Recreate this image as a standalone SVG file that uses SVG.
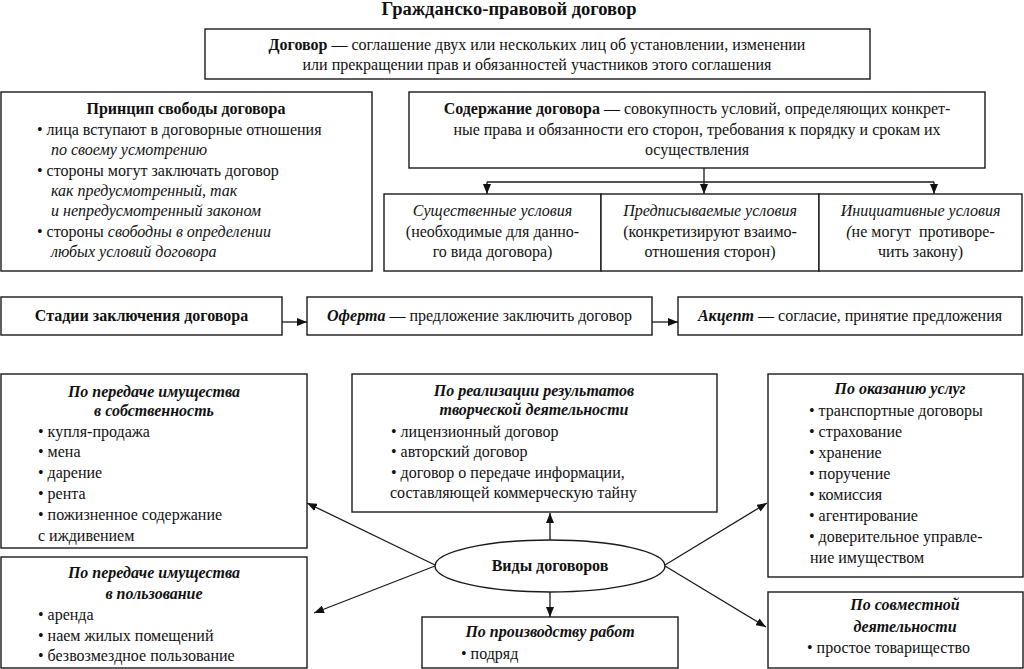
<svg xmlns="http://www.w3.org/2000/svg" width="1024" height="669" viewBox="0 0 1024 669" font-family="Liberation Serif">
<defs>
  <marker id="ah" markerUnits="userSpaceOnUse" markerWidth="10" markerHeight="8" viewBox="0 0 10 8" refX="10" refY="4" orient="auto">
    <path d="M0,0 L10,4 L0,8 z" fill="#111"/>
  </marker>
</defs>
<rect width="1024" height="669" fill="#fff"/>

<g id="title">
  <text x="509" y="15" font-family="Liberation Serif" font-size="18.5" fill="#111" text-anchor="middle" font-weight="bold">Гражданско-правовой договор</text>
</g>

<g id="definition">
  <rect x="205" y="29" width="665" height="50" fill="#fff" stroke="#1a1a1a" stroke-width="1.4"/>
  <text x="537" y="50" font-family="Liberation Serif" font-size="16" fill="#111" text-anchor="middle"><tspan font-weight="bold">Договор</tspan> — соглашение двух или нескольких лиц об установлении, изменении</text>
  <text x="537" y="70" font-family="Liberation Serif" font-size="16" fill="#111" text-anchor="middle">или прекращении прав и обязанностей участников этого соглашения</text>
</g>

<g id="principle">
  <rect x="1" y="92" width="371" height="179" fill="#fff" stroke="#1a1a1a" stroke-width="1.4"/>
  <text x="186" y="114" font-family="Liberation Serif" font-size="16" fill="#111" text-anchor="middle" font-weight="bold">Принцип свободы договора</text>
  <text x="37" y="135" font-family="Liberation Serif" font-size="16" fill="#111">• лица вступают в договорные отношения</text>
  <text x="51" y="155" font-family="Liberation Serif" font-size="16" fill="#111" font-style="italic">по своему усмотрению</text>
  <text x="37" y="176" font-family="Liberation Serif" font-size="16" fill="#111">• стороны могут заключать договор</text>
  <text x="51" y="196" font-family="Liberation Serif" font-size="16" fill="#111" font-style="italic">как предусмотренный, так</text>
  <text x="51" y="216" font-family="Liberation Serif" font-size="16" fill="#111" font-style="italic">и непредусмотренный законом</text>
  <text x="37" y="237" font-family="Liberation Serif" font-size="16" fill="#111">• стороны <tspan font-style="italic">свободны в определении</tspan></text>
  <text x="51" y="257" font-family="Liberation Serif" font-size="16" fill="#111" font-style="italic">любых условий договора</text>
</g>

<g id="content">
  <rect x="409" y="92" width="576" height="76" fill="#fff" stroke="#1a1a1a" stroke-width="1.4"/>
  <text x="697" y="114" font-family="Liberation Serif" font-size="16" fill="#111" text-anchor="middle"><tspan font-weight="bold">Содержание договора</tspan> — совокупность условий, определяющих конкрет-</text>
  <text x="697" y="135" font-family="Liberation Serif" font-size="16" fill="#111" text-anchor="middle">ные права и обязанности его сторон, требования к порядку и срокам их</text>
  <text x="697" y="155" font-family="Liberation Serif" font-size="16" fill="#111" text-anchor="middle">осуществления</text>
</g>

<g id="cond-essential">
  <rect x="384" y="194" width="217" height="77" fill="#fff" stroke="#1a1a1a" stroke-width="1.4"/>
  <text x="492.5" y="216" font-family="Liberation Serif" font-size="16" fill="#111" text-anchor="middle" font-style="italic">Существенные условия</text>
  <text x="492.5" y="237" font-family="Liberation Serif" font-size="16" fill="#111" text-anchor="middle">(необходимые для данно-</text>
  <text x="492.5" y="257" font-family="Liberation Serif" font-size="16" fill="#111" text-anchor="middle">го вида договора)</text>
</g>
<g id="cond-prescribed">
  <rect x="601" y="194" width="218" height="77" fill="#fff" stroke="#1a1a1a" stroke-width="1.4"/>
  <text x="710" y="216" font-family="Liberation Serif" font-size="16" fill="#111" text-anchor="middle" font-style="italic">Предписываемые условия</text>
  <text x="710" y="237" font-family="Liberation Serif" font-size="16" fill="#111" text-anchor="middle">(конкретизируют взаимо-</text>
  <text x="710" y="257" font-family="Liberation Serif" font-size="16" fill="#111" text-anchor="middle">отношения сторон)</text>
</g>
<g id="cond-initiative">
  <rect x="819" y="194" width="203" height="77" fill="#fff" stroke="#1a1a1a" stroke-width="1.4"/>
  <text x="920.5" y="216" font-family="Liberation Serif" font-size="16" fill="#111" text-anchor="middle" font-style="italic">Инициативные условия</text>
  <text x="920.5" y="237" font-family="Liberation Serif" font-size="16" fill="#111" text-anchor="middle" xml:space="preserve"><tspan font-style="italic">(</tspan>не могут  противоре-</text>
  <text x="920.5" y="257" font-family="Liberation Serif" font-size="16" fill="#111" text-anchor="middle">чить закону)</text>
</g>

<g id="stages">
  <rect x="1" y="297" width="281" height="38" fill="#fff" stroke="#1a1a1a" stroke-width="1.4"/>
  <text x="141.5" y="321" font-family="Liberation Serif" font-size="16" fill="#111" text-anchor="middle" font-weight="bold">Стадии заключения договора</text>
</g>
<g id="offer">
  <rect x="307" y="297" width="345" height="38" fill="#fff" stroke="#1a1a1a" stroke-width="1.4"/>
  <text x="479.5" y="321" font-family="Liberation Serif" font-size="16" fill="#111" text-anchor="middle"><tspan font-weight="bold" font-style="italic">Оферта</tspan> — предложение заключить договор</text>
</g>
<g id="acceptance">
  <rect x="678" y="297" width="344" height="38" fill="#fff" stroke="#1a1a1a" stroke-width="1.4"/>
  <text x="850" y="321" font-family="Liberation Serif" font-size="16" fill="#111" text-anchor="middle"><tspan font-weight="bold" font-style="italic">Акцепт</tspan> — согласие, принятие предложения</text>
</g>

<g id="ownership">
  <rect x="1" y="374" width="306" height="174" fill="#fff" stroke="#1a1a1a" stroke-width="1.4"/>
  <text x="154" y="397" font-family="Liberation Serif" font-size="16" fill="#111" text-anchor="middle" font-weight="bold" font-style="italic">По передаче имущества</text>
  <text x="154" y="416" font-family="Liberation Serif" font-size="16" fill="#111" text-anchor="middle" font-weight="bold" font-style="italic">в собственность</text>
  <text x="38" y="437" font-family="Liberation Serif" font-size="16" fill="#111">• купля-продажа</text>
  <text x="38" y="457" font-family="Liberation Serif" font-size="16" fill="#111">• мена</text>
  <text x="38" y="478" font-family="Liberation Serif" font-size="16" fill="#111">• дарение</text>
  <text x="38" y="499" font-family="Liberation Serif" font-size="16" fill="#111">• рента</text>
  <text x="38" y="520" font-family="Liberation Serif" font-size="16" fill="#111">• пожизненное содержание</text>
  <text x="38" y="541" font-family="Liberation Serif" font-size="16" fill="#111">с иждивением</text>
</g>

<g id="use">
  <rect x="1" y="557" width="306" height="111" fill="#fff" stroke="#1a1a1a" stroke-width="1.4"/>
  <text x="154" y="578" font-family="Liberation Serif" font-size="16" fill="#111" text-anchor="middle" font-weight="bold" font-style="italic">По передаче имущества</text>
  <text x="154" y="599" font-family="Liberation Serif" font-size="16" fill="#111" text-anchor="middle" font-weight="bold" font-style="italic">в пользование</text>
  <text x="38" y="620" font-family="Liberation Serif" font-size="16" fill="#111">• аренда</text>
  <text x="38" y="641" font-family="Liberation Serif" font-size="16" fill="#111">• наем жилых помещений</text>
  <text x="38" y="661" font-family="Liberation Serif" font-size="16" fill="#111">• безвозмездное пользование</text>
</g>

<g id="creative">
  <rect x="352" y="374" width="365" height="138" fill="#fff" stroke="#1a1a1a" stroke-width="1.4"/>
  <text x="534" y="396" font-family="Liberation Serif" font-size="16" fill="#111" text-anchor="middle" font-weight="bold" font-style="italic">По реализации результатов</text>
  <text x="534" y="415" font-family="Liberation Serif" font-size="16" fill="#111" text-anchor="middle" font-weight="bold" font-style="italic">творческой деятельности</text>
  <text x="391" y="437" font-family="Liberation Serif" font-size="16" fill="#111">• лицензионный договор</text>
  <text x="391" y="457" font-family="Liberation Serif" font-size="16" fill="#111">• авторский договор</text>
  <text x="391" y="478" font-family="Liberation Serif" font-size="16" fill="#111">• договор о передаче информации,</text>
  <text x="390" y="498" font-family="Liberation Serif" font-size="16" fill="#111">составляющей коммерческую тайну</text>
</g>

<g id="types">
  <ellipse cx="550" cy="566" rx="115" ry="26" fill="#fff" stroke="#1a1a1a" stroke-width="1.4"/>
  <text x="550" y="571" font-family="Liberation Serif" font-size="16" fill="#111" text-anchor="middle" font-weight="bold">Виды договоров</text>
</g>

<g id="works">
  <rect x="422" y="617" width="256" height="51" fill="#fff" stroke="#1a1a1a" stroke-width="1.4"/>
  <text x="550" y="637" font-family="Liberation Serif" font-size="16" fill="#111" text-anchor="middle" font-weight="bold" font-style="italic">По производству работ</text>
  <text x="461" y="659" font-family="Liberation Serif" font-size="16" fill="#111">• подряд</text>
</g>

<g id="services">
  <rect x="768" y="374" width="255" height="203" fill="#fff" stroke="#1a1a1a" stroke-width="1.4"/>
  <text x="900" y="394" font-family="Liberation Serif" font-size="16" fill="#111" text-anchor="middle" font-weight="bold" font-style="italic">По оказанию услуг</text>
  <text x="809" y="416" font-family="Liberation Serif" font-size="16" fill="#111">• транспортные договоры</text>
  <text x="809" y="437" font-family="Liberation Serif" font-size="16" fill="#111">• страхование</text>
  <text x="809" y="458" font-family="Liberation Serif" font-size="16" fill="#111">• хранение</text>
  <text x="809" y="479" font-family="Liberation Serif" font-size="16" fill="#111">• поручение</text>
  <text x="809" y="500" font-family="Liberation Serif" font-size="16" fill="#111">• комиссия</text>
  <text x="809" y="521" font-family="Liberation Serif" font-size="16" fill="#111">• агентирование</text>
  <text x="809" y="542" font-family="Liberation Serif" font-size="16" fill="#111">• доверительное управле-</text>
  <text x="810" y="563" font-family="Liberation Serif" font-size="16" fill="#111">ние имуществом</text>
</g>

<g id="joint">
  <rect x="768" y="592" width="255" height="76" fill="#fff" stroke="#1a1a1a" stroke-width="1.4"/>
  <text x="905" y="610" font-family="Liberation Serif" font-size="16" fill="#111" text-anchor="middle" font-weight="bold" font-style="italic">По совместной</text>
  <text x="905" y="632" font-family="Liberation Serif" font-size="16" fill="#111" text-anchor="middle" font-weight="bold" font-style="italic">деятельности</text>
  <text x="807" y="653" font-family="Liberation Serif" font-size="16" fill="#111">• простое товарищество</text>
</g>

<g id="connectors" fill="none" stroke="#1a1a1a" stroke-width="1.3">
  <line x1="704" y1="168" x2="704" y2="182"/>
  <line x1="487" y1="182" x2="934" y2="182"/>
  <line x1="487" y1="182" x2="487" y2="194" marker-end="url(#ah)"/>
  <line x1="704" y1="182" x2="704" y2="194" marker-end="url(#ah)"/>
  <line x1="934" y1="182" x2="934" y2="194" marker-end="url(#ah)"/>
  <line x1="282" y1="322" x2="307" y2="322" marker-end="url(#ah)"/>
  <line x1="652" y1="322" x2="678" y2="322" marker-end="url(#ah)"/>
  <line x1="435" y1="565" x2="307" y2="503" marker-end="url(#ah)"/>
  <line x1="435" y1="566" x2="314" y2="613" marker-end="url(#ah)"/>
  <line x1="665" y1="565" x2="767" y2="503" marker-end="url(#ah)"/>
  <line x1="665" y1="566" x2="766" y2="627" marker-end="url(#ah)"/>
  <line x1="550" y1="540" x2="550" y2="513" marker-end="url(#ah)"/>
  <line x1="550" y1="592" x2="550" y2="617" marker-end="url(#ah)"/>
</g>
</svg>
